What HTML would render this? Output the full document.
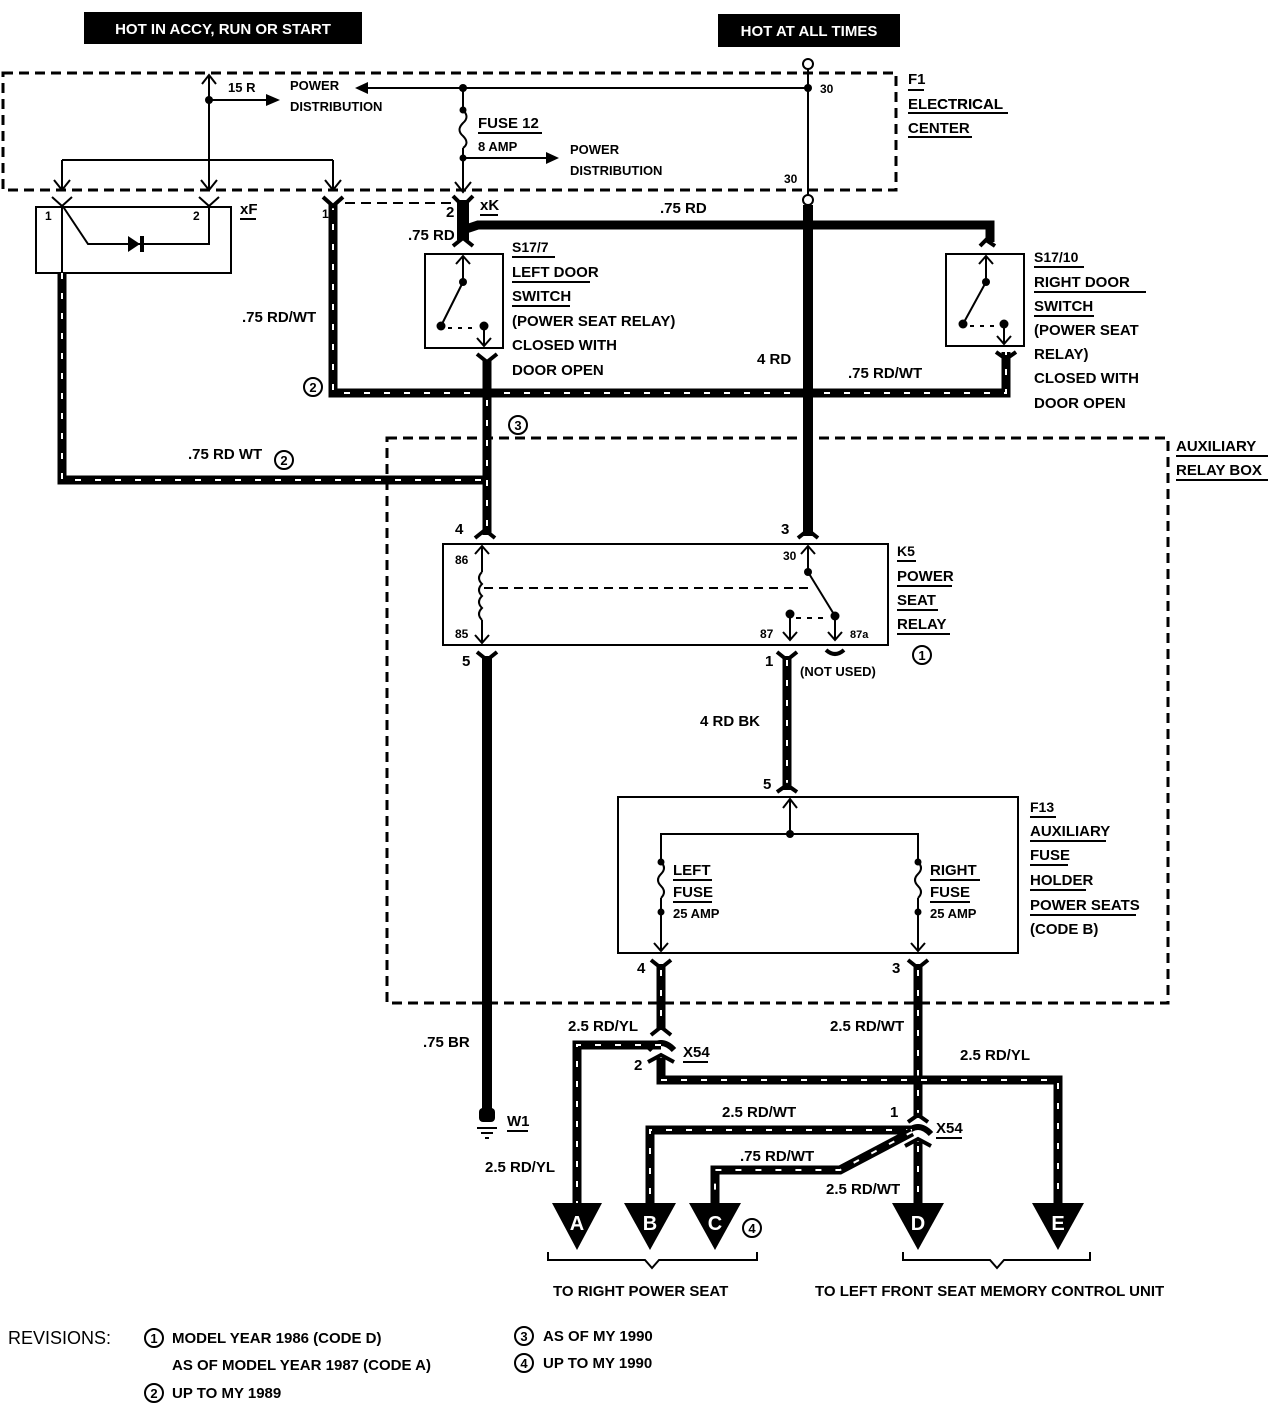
<!DOCTYPE html>
<html><head><meta charset="utf-8"><style>
html,body{margin:0;padding:0;background:#fff}
svg{display:block}
text{font-family:"Liberation Sans Narrow","Liberation Sans",sans-serif;font-weight:bold;font-size:15px;fill:#000}
.w{stroke:#000;stroke-width:9;fill:none;stroke-linejoin:miter}
.h{stroke:#fff;stroke-width:2;fill:none;stroke-dasharray:6 14}
.t{stroke:#000;stroke-width:2;fill:none}
.d{stroke:#000;stroke-width:3;fill:none;stroke-dasharray:10 6}
.u{stroke:#000;stroke-width:2}
</style></head><body>
<svg width="1272" height="1408" viewBox="0 0 1272 1408" xmlns="http://www.w3.org/2000/svg">
<!-- top labels -->
<rect x="84" y="12" width="278" height="32" fill="#000"/>
<text x="223" y="34" text-anchor="middle" style="fill:#fff">HOT IN ACCY, RUN OR START</text>
<rect x="718" y="14" width="182" height="33" fill="#000"/>
<text x="809" y="36" text-anchor="middle" style="fill:#fff">HOT AT ALL TIMES</text>

<!-- F1 dashed -->
<rect x="3" y="73" width="893" height="117" class="d"/>
<text x="908" y="108">F1</text><text x="908" y="110" dy="0"></text>
<text x="908" y="108" dy="0"></text>
<text x="908" y="110"></text>
<text x="908" y="110"></text>
<line x1="908" y1="90" x2="924" y2="90" class="u"/>
<text x="908" y="84">F1</text>
<text x="908" y="109">ELECTRICAL</text><line x1="908" y1="113" x2="1008" y2="113" class="u"/>
<text x="908" y="133">CENTER</text><line x1="908" y1="137" x2="972" y2="137" class="u"/>
<rect x="905" y="92" width="30" height="20" fill="#fff"/>
<text x="908" y="109">ELECTRICAL</text>

<!-- 15R -->
<line x1="209" y1="76" x2="209" y2="190" class="t"/>
<path d="M202 84 L209 75 L216 84" class="t"/>
<circle cx="209" cy="100" r="4"/>
<line x1="209" y1="100" x2="268" y2="100" class="t"/>
<path d="M266 94 L280 100 L266 106Z"/>
<text x="228" y="92" style="font-size:13px">15 R</text>
<text x="290" y="90" style="font-size:13px">POWER</text>
<text x="290" y="111" style="font-size:13px">DISTRIBUTION</text>
<line x1="62" y1="160" x2="333" y2="160" class="t"/>
<line x1="62" y1="160" x2="62" y2="190" class="t"/>
<line x1="333" y1="160" x2="333" y2="190" class="t"/>
<path d="M54 180 L62 190 L70 180 M201 180 L209 190 L217 180 M325 180 L333 190 L341 180" class="t"/>

<!-- fuse 12 -->
<line x1="463" y1="88" x2="808" y2="88" class="t"/>
<line x1="463" y1="88" x2="366" y2="88" class="t"/>
<path d="M368 82 L355 88 L368 94Z"/>
<circle cx="463" cy="88" r="4"/>
<line x1="463" y1="88" x2="463" y2="110" class="t"/>
<circle cx="463" cy="110" r="3.5"/>
<path d="M463 110 q7 7 0 13 q-7 7 0 13 q7 7 0 12" class="t"/>
<circle cx="463" cy="158" r="3.5"/>
<line x1="463" y1="148" x2="463" y2="192" class="t"/>
<line x1="463" y1="158" x2="546" y2="158" class="t"/>
<path d="M546 152 L559 158 L546 164Z"/>
<path d="M455 182 L463 192 L471 182" class="t"/>
<text x="478" y="128">FUSE 12</text><line x1="478" y1="133" x2="542" y2="133" class="u"/>
<text x="478" y="151" style="font-size:13px">8 AMP</text>
<text x="570" y="154" style="font-size:13px">POWER</text>
<text x="570" y="175" style="font-size:13px">DISTRIBUTION</text>

<!-- 30 line -->
<circle cx="808" cy="64" r="5" fill="#fff" stroke="#000" stroke-width="2"/>
<line x1="808" y1="69" x2="808" y2="195" class="t"/>
<circle cx="808" cy="88" r="4"/>
<text x="820" y="93" style="font-size:12px">30</text>
<text x="784" y="183" style="font-size:12px">30</text>
<circle cx="808" cy="200" r="5" fill="#fff" stroke="#000" stroke-width="2"/>

<!-- xF box -->
<rect x="36" y="207" width="195" height="66" class="t"/>
<path d="M62 205 L88 244 L209 244 L209 206" class="t"/>
<path d="M62 205 L62 280" class="t"/>
<path d="M128 236 L140 244 L128 252Z"/><rect x="140" y="236" width="4" height="16"/>
<path d="M52 197 L62 206 L72 197 M199 197 L209 206 L219 197" class="u" stroke-width="4" fill="none"/>
<text x="45" y="220" style="font-size:12px">1</text>
<text x="193" y="220" style="font-size:12px">2</text>
<text x="240" y="214">xF</text><line x1="240" y1="219" x2="256" y2="219" class="u"/>

<!-- wires -->
<path d="M62 273 L62 480 L487 480" class="w"/><path d="M62 273 L62 480 L487 480" class="h"/>
<path d="M333 204 L333 393 L1006 393 L1006 352" class="w"/><path d="M333 204 L333 393 L1006 393 L1006 352" class="h"/>
<path d="M323 197 L333 206 L343 197" stroke="#000" stroke-width="4" fill="none"/>
<line x1="345" y1="203" x2="452" y2="203" class="t" stroke-dasharray="10 6"/>
<text x="322" y="218" style="font-size:12px">1</text>
<text x="242" y="322">.75 RD/WT</text>
<text x="188" y="459">.75 RD WT</text>
<circle cx="284" cy="460" r="9" class="t"/><text x="284" y="465" text-anchor="middle" style="font-size:13px">2</text>
<circle cx="313" cy="387" r="9" class="t"/><text x="313" y="392" text-anchor="middle" style="font-size:13px">2</text>

<!-- left door switch -->
<path d="M463 200 L463 240" stroke="#000" stroke-width="12" fill="none"/>
<path d="M463 230 L478 225 L990 225 L990 242" stroke="#000" stroke-width="9" fill="none"/>
<path d="M453 196 L463 206 L473 196 M453 246 L463 238 L473 246" stroke="#000" stroke-width="4" fill="none"/>
<text x="446" y="217">2</text>
<text x="480" y="210">xK</text><line x1="480" y1="215" x2="498" y2="215" class="u"/>
<text x="408" y="240">.75 RD</text>
<text x="660" y="213">.75 RD</text>
<rect x="425" y="254" width="78" height="94" class="t"/>
<line x1="463" y1="256" x2="463" y2="282" class="t"/><path d="M456 264 L463 256 L470 264" class="t"/>
<circle cx="463" cy="282" r="4"/><line x1="463" y1="282" x2="441" y2="326" class="t" stroke-width="3"/>
<circle cx="441" cy="326" r="4.5"/><line x1="448" y1="328" x2="478" y2="328" class="t" stroke-dasharray="4 6"/>
<circle cx="484" cy="326" r="4.5"/><line x1="484" y1="326" x2="484" y2="346" class="t"/>
<path d="M477 338 L484 346 L491 338" class="t"/>
<path d="M477 354 L487 362 L497 354" stroke="#000" stroke-width="4" fill="none"/>
<path d="M487 360 L487 535" class="w"/><path d="M487 400 L487 535" class="h"/>
<text x="512" y="252" style="font-size:14px">S17/7</text><line x1="512" y1="257" x2="555" y2="257" class="u"/>
<text x="512" y="277">LEFT DOOR</text><line x1="512" y1="282" x2="590" y2="282" class="u"/>
<text x="512" y="301">SWITCH</text><line x1="512" y1="306" x2="570" y2="306" class="u"/>
<text x="512" y="326">(POWER SEAT RELAY)</text>
<text x="512" y="350">CLOSED WITH</text>
<text x="512" y="375">DOOR OPEN</text>
<circle cx="518" cy="425" r="9" class="t"/><text x="518" y="430" text-anchor="middle" style="font-size:13px">3</text>

<!-- right door switch -->
<rect x="946" y="254" width="78" height="92" class="t"/>
<path d="M980 246 L986 240 L995 246" stroke="#000" stroke-width="4" fill="none"/>
<line x1="986" y1="256" x2="986" y2="282" class="t"/><path d="M979 264 L986 256 L993 264" class="t"/>
<circle cx="986" cy="282" r="4"/><line x1="986" y1="282" x2="963" y2="324" class="t" stroke-width="3"/>
<circle cx="963" cy="324" r="4.5"/><line x1="970" y1="326" x2="998" y2="326" class="t" stroke-dasharray="4 6"/>
<circle cx="1004" cy="324" r="4.5"/><line x1="1004" y1="324" x2="1004" y2="344" class="t"/>
<path d="M997 336 L1004 344 L1011 336" class="t"/>
<path d="M996 352 L1006 359 L1016 352" stroke="#000" stroke-width="4" fill="none"/>
<text x="1034" y="262" style="font-size:14px">S17/10</text><line x1="1034" y1="267" x2="1084" y2="267" class="u"/>
<text x="1034" y="287">RIGHT DOOR</text><line x1="1034" y1="292" x2="1146" y2="292" class="u"/>
<text x="1034" y="311">SWITCH</text><line x1="1034" y1="316" x2="1094" y2="316" class="u"/>
<text x="1034" y="335">(POWER SEAT</text>
<text x="1034" y="359">RELAY)</text>
<text x="1034" y="383">CLOSED WITH</text>
<text x="1034" y="408">DOOR OPEN</text>
<text x="848" y="378">.75 RD/WT</text>

<!-- 30 thick wire -->
<line x1="808" y1="205" x2="808" y2="536" stroke="#000" stroke-width="10"/>
<text x="757" y="364">4 RD</text>

<!-- aux relay box -->
<rect x="387" y="438" width="781" height="565" class="d"/>
<text x="1176" y="451">AUXILIARY</text><line x1="1176" y1="456" x2="1268" y2="456" class="u"/>
<text x="1176" y="475">RELAY BOX</text><line x1="1176" y1="480" x2="1268" y2="480" class="u"/>

<!-- K5 -->
<rect x="443" y="544" width="445" height="101" class="t" stroke-width="3"/>
<path d="M475 538 L485 530 L495 538 M798 538 L808 530 L818 538" stroke="#000" stroke-width="4" fill="none"/>
<text x="455" y="534">4</text><text x="781" y="534">3</text>
<line x1="482" y1="546" x2="482" y2="572" class="t"/><path d="M475 554 L482 546 L489 554" class="t"/>
<path d="M482 572 q-6 6 0 12 q-6 6 0 12 q-6 6 0 12 q-6 6 0 12" class="t"/>
<line x1="482" y1="620" x2="482" y2="643" class="t"/><path d="M475 635 L482 643 L489 635" class="t"/>
<line x1="484" y1="588" x2="812" y2="588" class="t" stroke-dasharray="9 6"/>
<text x="455" y="564" style="font-size:12px">86</text><text x="455" y="638" style="font-size:12px">85</text>
<line x1="808" y1="546" x2="808" y2="572" class="t"/><path d="M801 554 L808 546 L815 554" class="t"/>
<circle cx="808" cy="572" r="4"/><line x1="808" y1="572" x2="835" y2="616" class="t" stroke-width="3"/>
<circle cx="835" cy="616" r="4.5"/><line x1="835" y1="616" x2="835" y2="640" class="t"/>
<circle cx="790" cy="614" r="4.5"/><line x1="790" y1="614" x2="790" y2="640" class="t"/>
<line x1="796" y1="618" x2="828" y2="618" class="t" stroke-dasharray="5 6"/>
<path d="M783 632 L790 640 L797 632 M828 632 L835 640 L842 632" class="t"/>
<path d="M826 650 q9 8 18 0" stroke="#000" stroke-width="4" fill="none"/>
<text x="783" y="560" style="font-size:12px">30</text>
<text x="760" y="638" style="font-size:12px">87</text><text x="850" y="638" style="font-size:11px">87a</text>
<text x="462" y="666">5</text><text x="765" y="666">1</text>
<text x="800" y="676" style="font-size:13px">(NOT USED)</text>
<text x="897" y="556" style="font-size:14px">K5</text><line x1="897" y1="561" x2="916" y2="561" class="u"/>
<text x="897" y="581">POWER</text><line x1="897" y1="586" x2="952" y2="586" class="u"/>
<text x="897" y="605">SEAT</text><line x1="897" y1="610" x2="938" y2="610" class="u"/>
<text x="897" y="629">RELAY</text><line x1="897" y1="634" x2="950" y2="634" class="u"/>
<circle cx="922" cy="655" r="9" class="t"/><text x="922" y="660" text-anchor="middle" style="font-size:13px">1</text>

<!-- 85 ground wire -->
<path d="M477 652 L487 660 L497 652" stroke="#000" stroke-width="4" fill="none"/>
<line x1="487" y1="656" x2="487" y2="1110" stroke="#000" stroke-width="10"/>
<rect x="479" y="1108" width="16" height="14" rx="4"/>
<line x1="477" y1="1128" x2="497" y2="1128" class="t"/><line x1="481" y1="1133" x2="493" y2="1133" class="t"/><line x1="485" y1="1138" x2="489" y2="1138" class="t"/>
<text x="423" y="1047">.75 BR</text>
<text x="507" y="1126">W1</text><line x1="507" y1="1131" x2="528" y2="1131" class="u"/>
<text x="485" y="1172">2.5 RD/YL</text>

<!-- 87 wire -->
<path d="M777 652 L787 660 L797 652" stroke="#000" stroke-width="4" fill="none"/>
<path d="M787 656 L787 790" class="w"/><path d="M787 660 L787 790" class="h"/>
<path d="M777 792 L787 785 L797 792" stroke="#000" stroke-width="4" fill="none"/>
<text x="700" y="726">4 RD BK</text>
<text x="763" y="789">5</text>

<!-- F13 -->
<rect x="618" y="797" width="400" height="156" class="t" stroke-width="3"/>
<line x1="790" y1="799" x2="790" y2="834" class="t"/><path d="M783 808 L790 799 L797 808" class="t"/>
<circle cx="790" cy="834" r="4"/>
<path d="M661 862 L661 834 L918 834 L918 862" class="t"/>
<circle cx="661" cy="862" r="3.5"/><circle cx="918" cy="862" r="3.5"/>
<path d="M661 862 q6 6 0 12 q-6 6 0 12 q6 6 0 12" class="t"/>
<path d="M918 862 q6 6 0 12 q-6 6 0 12 q6 6 0 12" class="t"/>
<circle cx="661" cy="912" r="3.5"/><circle cx="918" cy="912" r="3.5"/>
<line x1="661" y1="898" x2="661" y2="951" class="t"/><line x1="918" y1="898" x2="918" y2="951" class="t"/>
<path d="M654 943 L661 951 L668 943 M911 943 L918 951 L925 943" class="t"/>
<text x="673" y="875">LEFT</text><line x1="673" y1="880" x2="712" y2="880" class="u"/>
<text x="673" y="897">FUSE</text><line x1="673" y1="902" x2="712" y2="902" class="u"/>
<text x="673" y="918" style="font-size:13px">25 AMP</text>
<text x="930" y="875">RIGHT</text><line x1="930" y1="880" x2="980" y2="880" class="u"/>
<text x="930" y="897">FUSE</text><line x1="930" y1="902" x2="970" y2="902" class="u"/>
<text x="930" y="918" style="font-size:13px">25 AMP</text>
<text x="1030" y="812" style="font-size:14px">F13</text><line x1="1030" y1="817" x2="1056" y2="817" class="u"/>
<text x="1030" y="836">AUXILIARY</text><line x1="1030" y1="841" x2="1106" y2="841" class="u"/>
<text x="1030" y="860">FUSE</text><line x1="1030" y1="865" x2="1068" y2="865" class="u"/>
<text x="1030" y="885">HOLDER</text><line x1="1030" y1="890" x2="1086" y2="890" class="u"/>
<text x="1030" y="910">POWER SEATS</text><line x1="1030" y1="915" x2="1136" y2="915" class="u"/>
<text x="1030" y="934">(CODE B)</text>
<text x="637" y="973">4</text><text x="892" y="973">3</text>

<!-- outputs -->
<path d="M651 960 L661 968 L671 960 M908 960 L918 968 L928 960" stroke="#000" stroke-width="4" fill="none"/>
<path d="M661 964 L661 1030" class="w"/><path d="M661 970 L661 1030" class="h"/>
<path d="M918 964 L918 1118" class="w"/><path d="M918 970 L918 1118" class="h"/>
<path d="M651 1035 L661 1027 L671 1035" stroke="#000" stroke-width="4" fill="none"/>
<!-- X54 left -->
<path d="M648 1050 q13 -14 26 0" stroke="#000" stroke-width="6" fill="none"/>
<path d="M648 1062 L661 1055 L674 1062" stroke="#000" stroke-width="4" fill="none"/>
<path d="M661 1045 L577 1045 L577 1205" class="w"/><path d="M661 1045 L577 1045 L577 1205" class="h"/>
<path d="M661 1058 L661 1080 L1058 1080 L1058 1205" class="w"/><path d="M661 1080 L1058 1080 L1058 1205" class="h"/>
<text x="568" y="1031">2.5 RD/YL</text>
<text x="683" y="1057">X54</text><line x1="683" y1="1062" x2="708" y2="1062" class="u"/>
<text x="634" y="1070">2</text>
<text x="830" y="1031">2.5 RD/WT</text>
<text x="960" y="1060">2.5 RD/YL</text>
<!-- X54 right -->
<path d="M908 1122 L918 1115 L928 1122" stroke="#000" stroke-width="4" fill="none"/>
<path d="M905 1134 q13 -14 26 0" stroke="#000" stroke-width="6" fill="none"/>
<path d="M905 1146 L918 1139 L931 1146" stroke="#000" stroke-width="4" fill="none"/>
<path d="M912 1130 L650 1130 L650 1205" class="w"/><path d="M912 1130 L650 1130 L650 1205" class="h"/>
<path d="M912 1132 L840 1170 L715 1170 L715 1205" class="w"/><path d="M912 1132 L840 1170 L715 1170 L715 1205" class="h"/>
<path d="M918 1142 L918 1205" class="w"/><path d="M918 1146 L918 1205" class="h"/>
<text x="890" y="1117">1</text>
<text x="936" y="1133">X54</text><line x1="936" y1="1138" x2="962" y2="1138" class="u"/>
<text x="722" y="1117">2.5 RD/WT</text>
<text x="740" y="1161">.75 RD/WT</text>
<text x="826" y="1194">2.5 RD/WT</text>

<!-- arrows -->
<g>
<path d="M552 1203 L602 1203 L577 1250Z"/><text x="577" y="1230" text-anchor="middle" style="fill:#fff;font-size:20px;font-family:'Liberation Sans',sans-serif">A</text>
<path d="M624 1203 L676 1203 L650 1250Z"/><text x="650" y="1230" text-anchor="middle" style="fill:#fff;font-size:20px;font-family:'Liberation Sans',sans-serif">B</text>
<path d="M689 1203 L741 1203 L715 1250Z"/><text x="715" y="1230" text-anchor="middle" style="fill:#fff;font-size:20px;font-family:'Liberation Sans',sans-serif">C</text>
<path d="M892 1203 L944 1203 L918 1250Z"/><text x="918" y="1230" text-anchor="middle" style="fill:#fff;font-size:20px;font-family:'Liberation Sans',sans-serif">D</text>
<path d="M1032 1203 L1084 1203 L1058 1250Z"/><text x="1058" y="1230" text-anchor="middle" style="fill:#fff;font-size:20px;font-family:'Liberation Sans',sans-serif">E</text>
</g>
<circle cx="752" cy="1228" r="9" class="t"/><text x="752" y="1233" text-anchor="middle" style="font-size:13px">4</text>
<path d="M548 1252 L548 1260 L645 1260 L652 1268 L659 1260 L757 1260 L757 1252" class="t"/>
<path d="M903 1252 L903 1260 L990 1260 L997 1268 L1004 1260 L1090 1260 L1090 1252" class="t"/>
<text x="553" y="1296">TO RIGHT POWER SEAT</text>
<text x="815" y="1296">TO LEFT FRONT SEAT MEMORY CONTROL UNIT</text>

<!-- revisions -->
<text x="8" y="1344" style="font-size:18px;font-family:'Liberation Sans',sans-serif;font-weight:normal">REVISIONS:</text>
<circle cx="154" cy="1338" r="9" class="t"/><text x="154" y="1343" text-anchor="middle" style="font-size:13px">1</text>
<text x="172" y="1343">MODEL YEAR 1986 (CODE D)</text>
<text x="172" y="1370">AS OF MODEL YEAR 1987 (CODE A)</text>
<circle cx="154" cy="1393" r="9" class="t"/><text x="154" y="1398" text-anchor="middle" style="font-size:13px">2</text>
<text x="172" y="1398">UP TO MY 1989</text>
<circle cx="524" cy="1336" r="9" class="t"/><text x="524" y="1341" text-anchor="middle" style="font-size:13px">3</text>
<text x="543" y="1341">AS OF MY 1990</text>
<circle cx="524" cy="1363" r="9" class="t"/><text x="524" y="1368" text-anchor="middle" style="font-size:13px">4</text>
<text x="543" y="1368">UP TO MY 1990</text>
</svg>
</body></html>
